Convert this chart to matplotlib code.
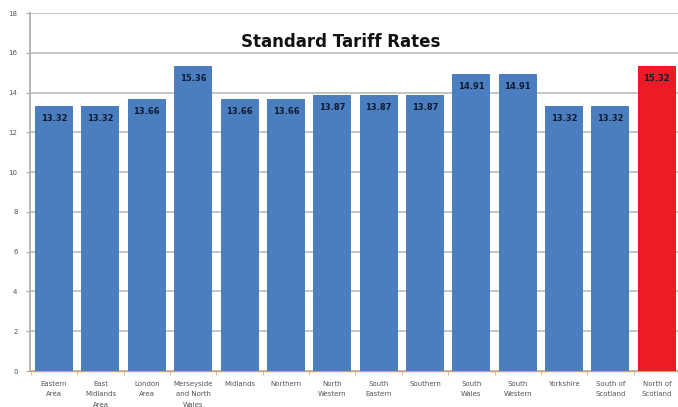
import matplotlib
matplotlib.use("Agg")
import matplotlib.pyplot as plt
import numpy as np

regions = ["Eastern\nArea", "East\nMidlands\nArea", "London\nArea", "Merseyside\nand North\nWales",
           "Midlands", "Northern", "North\nWestern", "South\nEastern", "Southern",
           "South\nWales", "South\nWestern", "Yorkshire", "South of\nScotland", "North of\nScotland"]
rates = [13.32, 13.32, 13.66, 15.36, 13.66, 13.66, 13.87, 13.87, 13.87,
         14.91, 14.91, 13.32, 13.32, 15.32]
highlight = "North of\nScotland"
y_ticks = [0, 2, 4, 6, 8, 10, 12, 14, 16, 18]

blue = "#4a7ebf"
red = "#ec1c24"
colors = [red if r == highlight else blue for r in regions]

fig = plt.figure(figsize=(6.78, 4.07), dpi=100)
ax = fig.add_axes([30 / 678, 36 / 407, 650 / 678, 358 / 407])

x = np.arange(len(regions))
bars = ax.bar(x, rates, width=0.82, color=colors, zorder=3)

for xi, v in zip(x, rates):
    ax.annotate(f"{v:.2f}", xy=(xi, v), xytext=(0, -9), textcoords="offset points",
                ha="center", va="center", fontsize=6, fontweight="bold",
                color="#0e1a33", zorder=4)

ax.set_ylim(0, 18)
ax.set_xlim(-0.52, len(regions) - 0.52)
ax.set_yticks(y_ticks)
ax.set_yticklabels([str(t) for t in y_ticks], fontsize=5, color="#555555")
ax.yaxis.grid(True, color="#c4c4c4", linewidth=1.4, zorder=0)
ax.set_axisbelow(True)

ax.set_xticks(x)
ax.set_xticklabels(regions, fontsize=5, color="#555555", linespacing=1.9)
ax.set_xticks(np.arange(len(regions) + 1) - 0.5, minor=True)
ax.tick_params(axis="x", which="major", length=0, pad=7)
ax.tick_params(axis="x", which="minor", length=3, color="#d9b48a")
ax.tick_params(axis="y", length=3, color="#aaaaaa", pad=6)

for side in ["top", "right"]:
    ax.spines[side].set_visible(False)
ax.spines["left"].set_color("#aaaaaa")
ax.spines["left"].set_linewidth(1.2)
ax.spines["bottom"].set_color("#c8a47c")
ax.spines["bottom"].set_linewidth(1.0)

fig.text(341 / 678, 1 - 42 / 407, "Standard Tariff Rates", ha="center", va="center",
         fontsize=12, fontweight="bold", color="#111111")

fig.savefig("out.png", dpi=100)
